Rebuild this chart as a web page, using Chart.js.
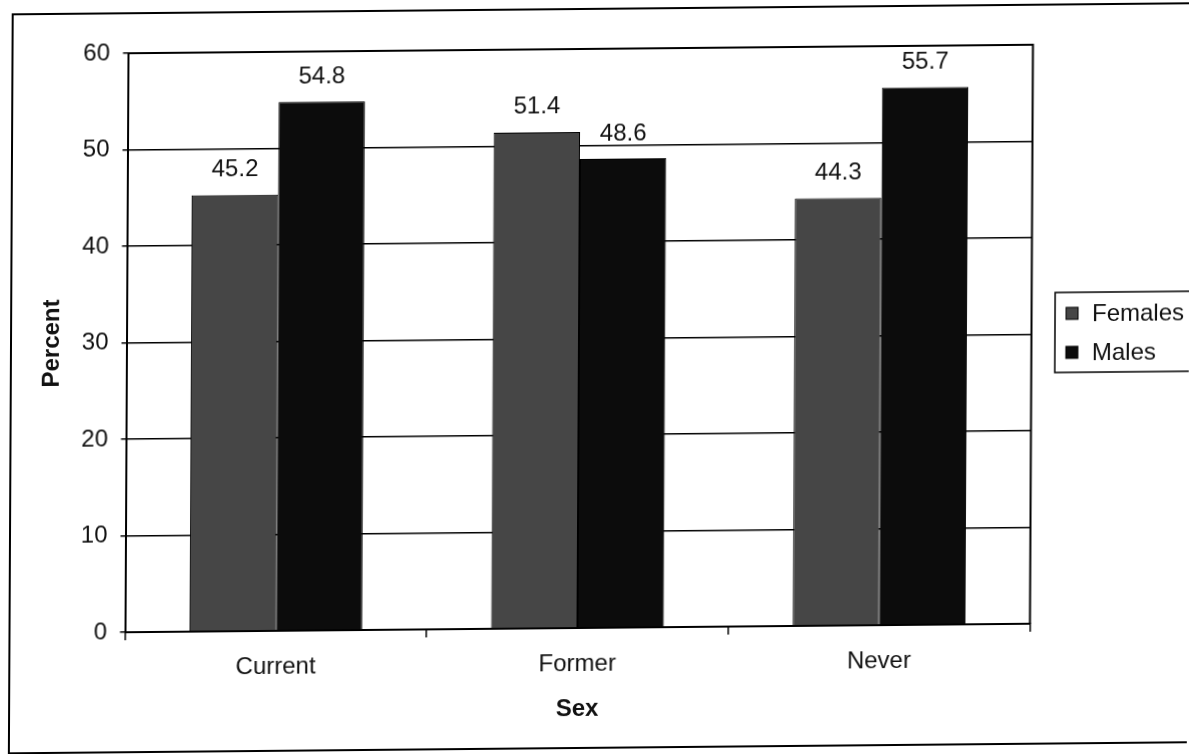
<!DOCTYPE html>
<html>
<head>
<meta charset="utf-8">
<script src="https://cdn.jsdelivr.net/npm/chart.js@4"></script>
<style>
  html, body { margin: 0; padding: 0; background: #fff; overflow: hidden; }
  #wrap { width: 1189px; height: 754px; position: relative; }
  /* slight skew, like a page laid a little crooked on the scanner bed */
  canvas { display: block; transform-origin: 579px 338.5px; transform: matrix(1, -0.0094, -0.0052, 1, 0, 0); }
</style>
</head>
<body>
<div id="wrap"><canvas id="c" width="1189" height="754"></canvas></div>
<script>
// Data
const categories = ['Current', 'Former', 'Never'];
const females = [45.2, 51.4, 44.3];
const males = [54.8, 48.6, 55.7];
const seriesNames = ['Females', 'Males'];
const yMin = 0, yMax = 60, yStep = 10;
const xTitle = 'Sex';
const yTitle = 'Percent';

const FONT = '"Liberation Sans", Arial, Helvetica, sans-serif';
const femaleColor = '#464646';
const maleColor = '#0c0c0c';

// outer frame of the chart object
const framePlugin = {
  id: 'frame',
  beforeDraw(chart) {
    const ctx = chart.ctx;
    ctx.save();
    ctx.fillStyle = '#fff';
    ctx.fillRect(0, 0, chart.width, chart.height);
    ctx.strokeStyle = '#000';
    ctx.lineWidth = 2;
    ctx.strokeRect(11, 9, chart.width + 20, 739);
    ctx.restore();
  }
};

// border round the plot area
const plotBorderPlugin = {
  id: 'plotBorder',
  afterDatasetsDraw(chart) {
    const { ctx, chartArea: a } = chart;
    ctx.save();
    ctx.strokeStyle = '#000';
    ctx.lineWidth = 2;
    ctx.beginPath();
    ctx.moveTo(a.left, a.top);
    ctx.lineTo(a.right, a.top);
    ctx.lineTo(a.right, a.bottom);
    ctx.stroke();
    ctx.restore();
  }
};

// value printed above each bar
const valueLabelPlugin = {
  id: 'valueLabels',
  afterDatasetsDraw(chart) {
    const ctx = chart.ctx;
    ctx.save();
    ctx.font = '24px ' + FONT;
    ctx.fillStyle = '#111';
    ctx.textAlign = 'center';
    ctx.textBaseline = 'alphabetic';
    chart.data.datasets.forEach((ds, i) => {
      chart.getDatasetMeta(i).data.forEach((bar, j) => {
        ctx.fillText(ds.data[j].toFixed(1), bar.x, bar.y - 18.5);
      });
    });
    ctx.restore();
  }
};

// boxed legend on the right
const legendPlugin = {
  id: 'boxLegend',
  afterDraw(chart) {
    const ctx = chart.ctx;
    const left = 1055, top = 297, bottom = 377;
    const rows = [318, 357];
    ctx.save();
    ctx.strokeStyle = '#000';
    ctx.lineWidth = 1.5;
    ctx.strokeRect(left, top, chart.width + 20 - left, bottom - top);
    ctx.font = '24px ' + FONT;
    ctx.textAlign = 'left';
    ctx.textBaseline = 'middle';
    chart.data.datasets.forEach((ds, i) => {
      const y = rows[i];
      ctx.fillStyle = ds.backgroundColor;
      ctx.fillRect(1066, y - 6, 12, 12);
      ctx.strokeStyle = '#000';
      ctx.lineWidth = 1;
      ctx.strokeRect(1066, y - 6, 12, 12);
      ctx.fillStyle = '#111';
      ctx.fillText(ds.label, 1092, y + 1);
    });
    ctx.restore();
  }
};

new Chart(document.getElementById('c'), {
  type: 'bar',
  data: {
    labels: categories,
    datasets: [
      { label: seriesNames[0], data: females, backgroundColor: femaleColor, borderColor: '#000', borderWidth: 1 },
      { label: seriesNames[1], data: males, backgroundColor: maleColor, borderColor: '#000', borderWidth: 1 }
    ]
  },
  options: {
    responsive: false,
    animation: false,
    devicePixelRatio: 1,
    layout: { padding: { left: 30, top: 49, right: 157.5, bottom: 25 } },
    datasets: { bar: { categoryPercentage: 0.573, barPercentage: 1 } },
    plugins: { legend: { display: false }, tooltip: { enabled: false } },
    scales: {
      x: {
        offset: true,
        grid: { display: true, drawOnChartArea: false, drawTicks: true, tickLength: 8, color: '#000', lineWidth: 1.5, offset: true },
        border: { display: true, color: '#000', width: 2 },
        ticks: { font: { family: FONT, size: 24 }, color: '#111', padding: 13.6 },
        title: { display: true, text: xTitle, color: '#111', font: { family: FONT, size: 24, weight: 'bold' }, padding: { top: 0, bottom: 5.6 } },
        afterFit(scale) { scale.height = 101; }
      },
      y: {
        min: yMin,
        max: yMax,
        ticks: { stepSize: yStep, font: { family: FONT, size: 24 }, color: '#111', padding: 13 },
        grid: { color: '#000', lineWidth: 1.5, tickLength: 5, drawTicks: true },
        border: { display: true, color: '#000', width: 2 },
        title: { display: true, text: yTitle, color: '#111', font: { family: FONT, size: 24, weight: 'bold' }, padding: { top: 8, bottom: 0 } },
        afterFit(scale) { scale.width = 96.5; }
      }
    }
  },
  plugins: [framePlugin, plotBorderPlugin, valueLabelPlugin, legendPlugin]
});
</script>
</body>
</html>
